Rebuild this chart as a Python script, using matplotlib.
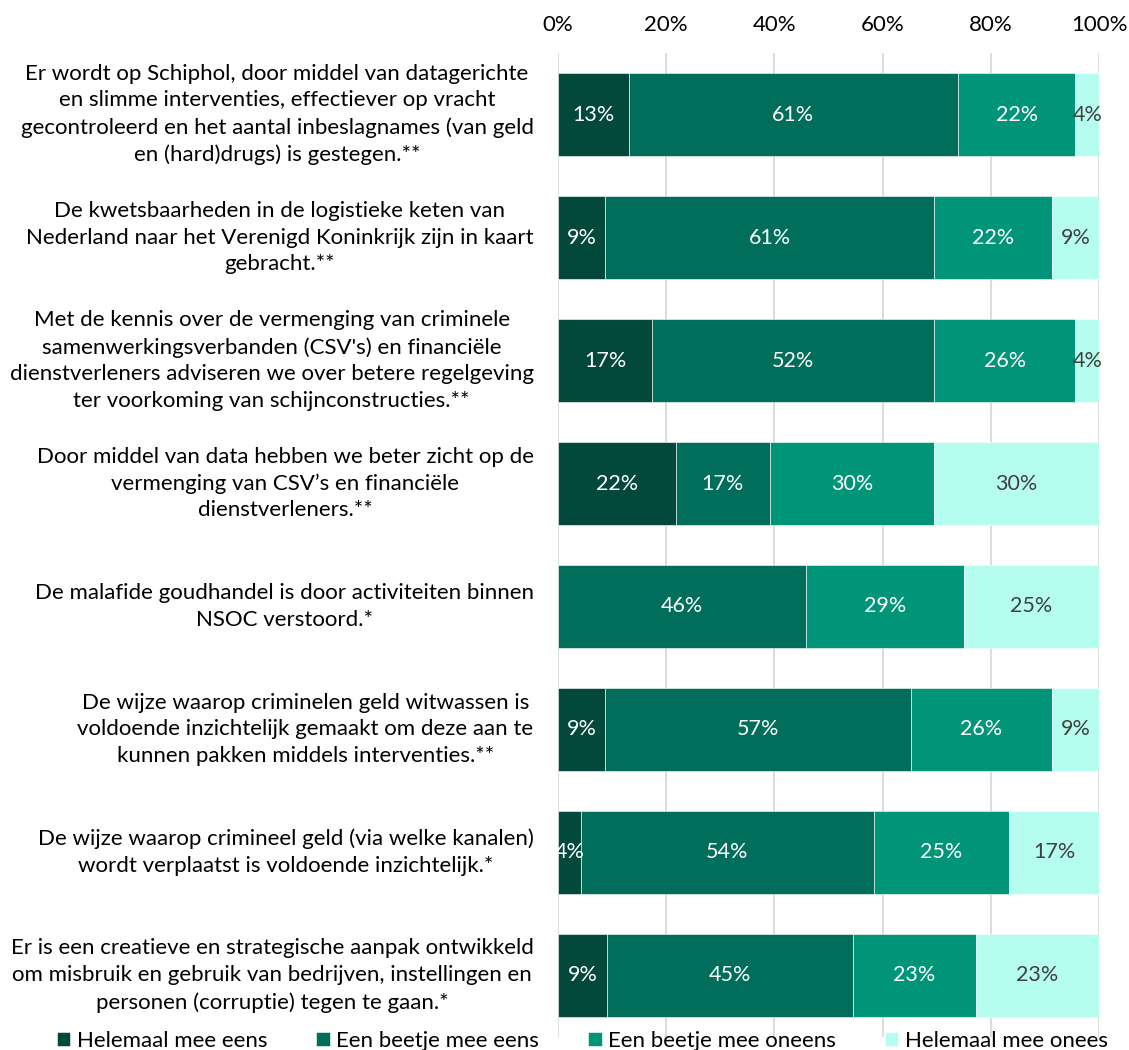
import numpy as np
import matplotlib.pyplot as plt

plt.rcParams['font.family'] = ['Lato', 'DejaVu Sans']

stellingen = [
    "Er wordt op Schiphol, door middel van datagerichte\nen slimme interventies, effectiever op vracht\ngecontroleerd en het aantal inbeslagnames (van geld\nen (hard)drugs) is gestegen.**",
    "De kwetsbaarheden in de logistieke keten van\nNederland naar het Verenigd Koninkrijk zijn in kaart\ngebracht.**",
    "Met de kennis over de vermenging van criminele\nsamenwerkingsverbanden (CSV's) en financiële\ndienstverleners adviseren we over betere regelgeving\nter voorkoming van schijnconstructies.**",
    "Door middel van data hebben we beter zicht op de\nvermenging van CSV’s en financiële\ndienstverleners.**",
    "De malafide goudhandel is door activiteiten binnen\nNSOC verstoord.*",
    "De wijze waarop criminelen geld witwassen is\nvoldoende inzichtelijk gemaakt om deze aan te\nkunnen pakken middels interventies.**",
    "De wijze waarop crimineel geld (via welke kanalen)\nwordt verplaatst is voldoende inzichtelijk.*",
    "Er is een creatieve en strategische aanpak ontwikkeld\nom misbruik en gebruik van bedrijven, instellingen en\npersonen (corruptie) tegen te gaan.*",
]

antwoorden = ["Helemaal mee eens", "Een beetje mee eens", "Een beetje mee oneens", "Helemaal mee onees"]

helemaal_eens = [13.04, 8.70, 17.39, 21.74, 0.0, 8.70, 4.17, 9.09]
beetje_eens = [60.87, 60.87, 52.17, 17.39, 45.83, 56.52, 54.17, 45.45]
beetje_oneens = [21.74, 21.74, 26.09, 30.43, 29.17, 26.09, 25.00, 22.73]
helemaal_oneens = [4.35, 8.70, 4.35, 30.43, 25.00, 8.70, 16.67, 22.73]

kleuren = ["#02483b", "#006e5a", "#009478", "#b5fdee"]
tekstkleur = ["white", "white", "white", "#404040"]

fig = plt.figure(figsize=(11.29, 10.5), dpi=100)
ax = fig.add_axes([0.4942, 0.0124, 0.4792, 0.9371])

y = np.arange(len(stellingen))
reeksen = [helemaal_eens, beetje_eens, beetje_oneens, helemaal_oneens]
links = np.zeros(len(stellingen))
for reeks, kleur, tk, naam in zip(reeksen, kleuren, tekstkleur, antwoorden):
    reeks = np.array(reeks)
    bars = ax.barh(y, reeks, left=links, height=0.67, color=kleur,
                   edgecolor="white", linewidth=0.4, label=naam, zorder=3)
    for b, v in zip(bars, reeks):
        if v > 0:
            ax.text(b.get_x() + b.get_width() / 2, b.get_y() + b.get_height() / 2,
                    f"{v:.0f}%", ha="center", va="center", color=tk,
                    fontsize=15.5, zorder=4)
    links += reeks

ax.set_xlim(0, 100)
ax.set_ylim(len(stellingen) - 0.5, -0.5)
ax.set_xticks(np.arange(0, 101, 20))
ax.set_xticklabels([f"{t}%" for t in range(0, 101, 20)])
ax.xaxis.tick_top()
ax.tick_params(axis="x", length=0, pad=13, labelsize=16, colors="#000000")
ax.set_yticks(y)
ax.set_yticklabels([])
ax.tick_params(axis="y", length=0)
for i, s in enumerate(stellingen):
    ax.text(-0.045, y[i], s, transform=ax.get_yaxis_transform(), ha="right",
            va="center", multialignment="center", fontsize=16,
            linespacing=1.42, color="#000000")
for sp in ax.spines.values():
    sp.set_visible(False)
ax.grid(axis="x", color="#d9d9d9", linewidth=1.3, zorder=0)
ax.set_axisbelow(True)

fig.legend(loc="center", bbox_to_anchor=(0.516, 0.009), ncol=4, frameon=False,
           fontsize=16, handlelength=0.6, handleheight=0.6, handletextpad=0.3,
           columnspacing=2.2, borderaxespad=0)

fig.savefig("out.png", dpi=100)
